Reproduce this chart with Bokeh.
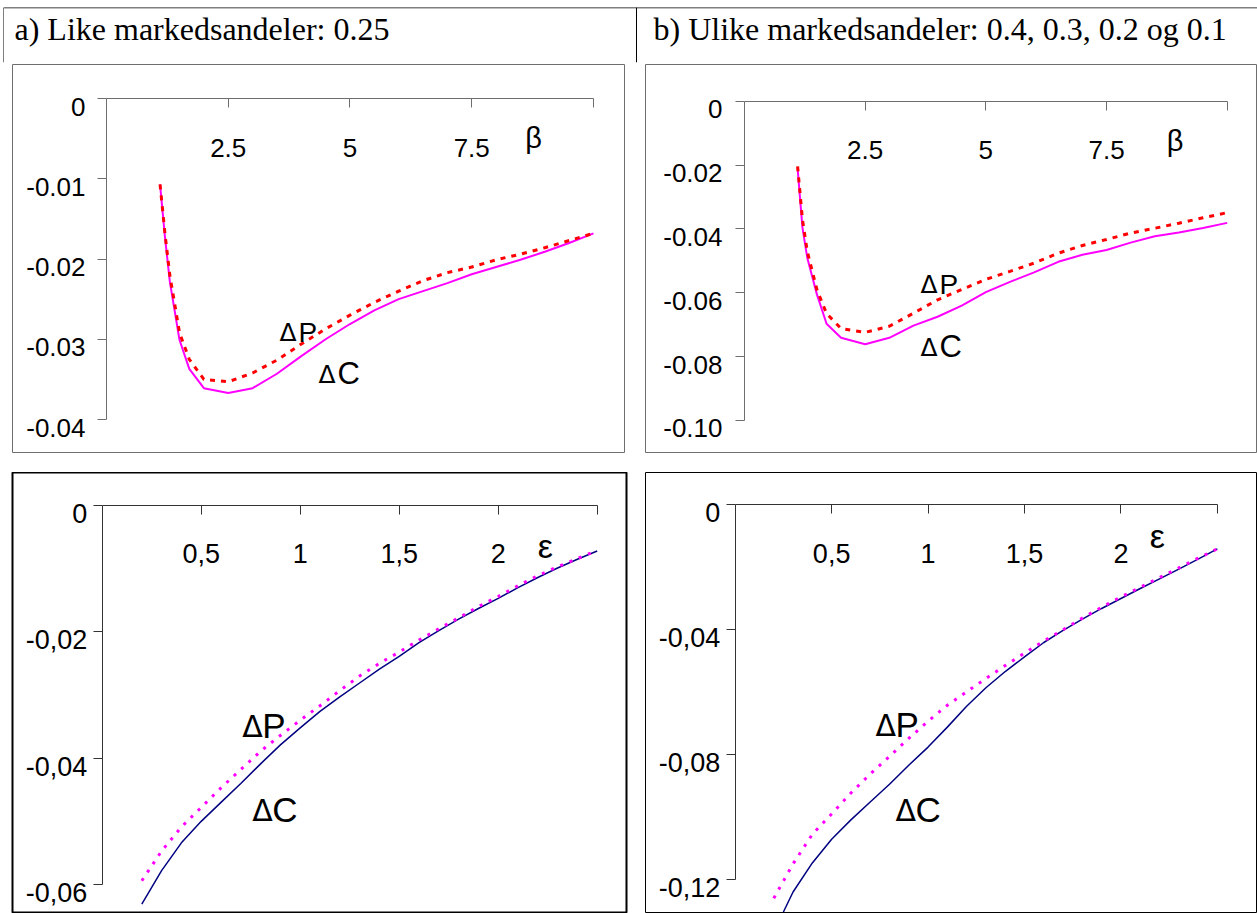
from bokeh.plotting import figure
from bokeh.models import Range1d, LinearAxis, FixedTicker, Label, Span
from bokeh.layouts import column, row
from bokeh.embed import file_html
from bokeh.resources import INLINE

# ---------------- data ----------------
titles = ["a) Like markedsandeler: 0.25",
          "b) Ulike markedsandeler: 0.4, 0.3, 0.2 og 0.1"]

beta = [1.1, 1.2, 1.3, 1.5, 1.7, 2.0, 2.5, 3.0, 3.5, 4.0, 4.5, 5.0,
        5.5, 6.0, 6.5, 7.0, 7.5, 8.0, 8.5, 9.0, 9.5, 10.0]
a_dC = [-0.0107, -0.0172, -0.0228, -0.0301, -0.0337, -0.0361, -0.0367, -0.0361,
        -0.0343, -0.0321, -0.0300, -0.0281, -0.0264, -0.0250, -0.0240, -0.0230,
        -0.0219, -0.0210, -0.0201, -0.0191, -0.0180, -0.0168]
a_dP = [-0.0107, -0.0168, -0.0220, -0.0292, -0.0325, -0.0350, -0.0353, -0.0342,
        -0.0326, -0.0306, -0.0287, -0.0270, -0.0254, -0.0240, -0.0227, -0.0217,
        -0.0210, -0.0201, -0.0194, -0.0186, -0.0177, -0.0168]
b_dC = [-0.0210, -0.0395, -0.0490, -0.0605, -0.0697, -0.0741, -0.0761, -0.0741,
        -0.0703, -0.0675, -0.0640, -0.0598, -0.0566, -0.0536, -0.0503, -0.0481,
        -0.0466, -0.0443, -0.0423, -0.0411, -0.0397, -0.0381]
b_dP = [-0.0204, -0.0370, -0.0470, -0.0590, -0.0665, -0.0712, -0.0724, -0.0705,
        -0.0664, -0.0622, -0.0590, -0.0558, -0.0533, -0.0507, -0.0476, -0.0452,
        -0.0433, -0.0413, -0.0398, -0.0382, -0.0365, -0.0349]

eps = [0.2, 0.3, 0.4, 0.5, 0.6, 0.7, 0.8, 0.9, 1.0, 1.1, 1.2, 1.3,
       1.4, 1.5, 1.6, 1.7, 1.8, 1.9, 2.0, 2.1, 2.2, 2.3, 2.4, 2.5]
c_dC = [-0.0631, -0.0578, -0.0534, -0.0500, -0.0470, -0.0440, -0.0409, -0.0379,
        -0.0352, -0.0326, -0.0303, -0.0281, -0.0259, -0.0239, -0.0217, -0.0198,
        -0.0180, -0.0163, -0.0147, -0.0130, -0.0114, -0.0099, -0.0085, -0.0072]
c_dP = [-0.0594, -0.0547, -0.0509, -0.0478, -0.0447, -0.0418, -0.0389, -0.0364,
        -0.0340, -0.0317, -0.0293, -0.0270, -0.0250, -0.0232, -0.0213, -0.0195,
        -0.0178, -0.0160, -0.0144, -0.0127, -0.0111, -0.0097, -0.0084, -0.0071]
eps_d = [0.25, 0.3, 0.4, 0.5, 0.6, 0.7, 0.8, 0.9, 1.0, 1.1, 1.2, 1.3,
         1.4, 1.5, 1.6, 1.7, 1.8, 1.9, 2.0, 2.1, 2.2, 2.3, 2.4, 2.5]
d_dC = [-0.1304, -0.1240, -0.1147, -0.1071, -0.1009, -0.0952, -0.0895, -0.0834,
        -0.0776, -0.0712, -0.0645, -0.0586, -0.0534, -0.0487, -0.0441, -0.0402,
        -0.0366, -0.0332, -0.0300, -0.0268, -0.0237, -0.0206, -0.0174, -0.0141]
d_dP = [-0.1260, -0.1150, -0.1055, -0.0990, -0.0923, -0.0862, -0.0806, -0.0748,
        -0.0693, -0.0642, -0.0599, -0.0556, -0.0515, -0.0475, -0.0436, -0.0400,
        -0.0363, -0.0328, -0.0295, -0.0264, -0.0233, -0.0202, -0.0171, -0.0141]

beta_ticks = [2.5, 5.0, 7.5, 10.0]
beta_tick_labels = ["2.5", "5", "7.5", ""]
eps_ticks = [0.5, 1.0, 1.5, 2.0, 2.5]
eps_tick_labels = ["0,5", "1", "1,5", "2", ""]
a_yticks = [0.0, -0.01, -0.02, -0.03, -0.04]
a_ylabels = ["0", "-0.01", "-0.02", "-0.03", "-0.04"]
b_yticks = [0.0, -0.02, -0.04, -0.06, -0.08, -0.10]
b_ylabels = ["0", "-0.02", "-0.04", "-0.06", "-0.08", "-0.10"]
c_yticks = [0.0, -0.02, -0.04, -0.06]
c_ylabels = ["0", "-0,02", "-0,04", "-0,06"]
d_yticks = [0.0, -0.04, -0.08, -0.12]
d_ylabels = ["0", "-0,04", "-0,08", "-0,12"]

SANS = "Liberation Sans"
SERIF = "Liberation Serif"
DELTA_FONT = "DejaVu Sans"


def panel(width, height, borders, xr, yr, xmax, xt, xl, yt, yl, box_color, box_w,
          axis_color, fs, x_standoff, y_standoff):
    ml, mr, mt, mb = borders
    p = figure(width=width, height=height, x_range=Range1d(*xr), y_range=Range1d(*yr),
               x_axis_location=None, y_axis_location=None, toolbar_location=None,
               output_backend="svg", min_border_left=ml, min_border_right=mr,
               min_border_top=mt, min_border_bottom=mb)
    p.grid.visible = False
    p.outline_line_color = box_color
    p.outline_line_width = box_w
    p.background_fill_color = "white"
    p.border_fill_color = "white"

    xax = LinearAxis(fixed_location=0, ticker=FixedTicker(ticks=xt),
                     major_label_overrides=dict(zip(xt, xl)), bounds=(0, xmax))
    xax.axis_line_color = axis_color
    xax.major_tick_line_color = axis_color
    xax.major_tick_in = 0
    xax.major_tick_out = 9
    xax.minor_tick_line_color = None
    xax.major_label_standoff = x_standoff
    xax.major_label_text_font = SANS
    xax.major_label_text_font_size = fs
    xax.major_label_text_color = "black"
    p.add_layout(xax, "below")

    yax = LinearAxis(fixed_location=0, ticker=FixedTicker(ticks=yt),
                     major_label_overrides={t: "" for t in yt},
                     bounds=(max(yr[0], min(yt)), 0))
    yax.axis_line_color = axis_color
    yax.major_tick_line_color = axis_color
    yax.major_tick_in = 0
    yax.major_tick_out = 9
    yax.minor_tick_line_color = None
    p.add_layout(yax, "left")

    # tick labels sit a few pixels below their ticks in the original
    frame_h = height - mt - mb
    shift = 8 * (yr[1] - yr[0]) / frame_h
    lt = [t - shift for t in yt]
    ylab = LinearAxis(fixed_location=0, ticker=FixedTicker(ticks=lt),
                      major_label_overrides=dict(zip(lt, yl)), bounds=(yr[0], yr[1]))
    ylab.axis_line_color = None
    ylab.major_tick_line_color = None
    ylab.major_tick_in = 0
    ylab.major_tick_out = 9
    ylab.minor_tick_line_color = None
    ylab.major_label_standoff = y_standoff
    ylab.major_label_text_font = SANS
    ylab.major_label_text_font_size = fs
    ylab.major_label_text_color = "black"
    p.add_layout(ylab, "left")
    return p


def text_label(p, x, y, s, font, size, x_offset=0, extra_up=0):
    p.add_layout(Label(x=x, y=y, x_offset=x_offset,
                       y_offset=round(0.22 * size) + extra_up,
                       text=s, text_font=font, text_font_size=f"{size}px",
                       text_baseline="alphabetic", text_color="black"))


def delta_label(p, x, y, letter, dsize, lsize, gap):
    text_label(p, x, y, "Δ", DELTA_FONT, dsize)
    text_label(p, x, y, letter, SANS, lsize, x_offset=gap)


TOP_AX = "#6e6e6e"
BOT_AX = "#333333"

# ---------- header ----------
h = figure(width=1257, height=64, x_range=Range1d(0, 1254), y_range=Range1d(55, 0),
           x_axis_location=None, y_axis_location=None, toolbar_location=None,
           output_backend="svg", min_border_left=3, min_border_right=0,
           min_border_top=7, min_border_bottom=2)
h.grid.visible = False
h.outline_line_color = None
h.add_layout(Span(location=0, dimension="height", line_color="black", line_width=1))
h.add_layout(Span(location=633, dimension="height", line_color="black", line_width=1))
h.add_layout(Span(location=0, dimension="width", line_color="black", line_width=1.5))
text_label(h, 11, 28, titles[0], SERIF, 32)
text_label(h, 650, 28, titles[1], SERIF, 32)

# ---------- top-left ----------
pa = panel(636, 408, (12, 12, 0, 20), (-1.930, 10.637), (-0.044112, 0.004237), 10,
           beta_ticks, beta_tick_labels, a_yticks, a_ylabels, TOP_AX, 1, TOP_AX,
           "26px", 31, 12)
pa.line(beta, a_dC, line_color="#FF00FF", line_width=2)
pa.line(beta, a_dP, line_color="#FF0000", line_width=3, line_dash="5 6")
delta_label(pa, 3.552, -0.02987, "P", 25, 28, 19)
delta_label(pa, 4.353, -0.03514, "C", 25, 31, 19)
text_label(pa, 8.6, -0.00573, "β", SANS, 29)

# ---------- top-right ----------
pb = panel(621, 408, (9, 1, 0, 20), (-2.051, 10.607), (-0.110022, 0.011494), 10,
           beta_ticks, beta_tick_labels, b_yticks, b_ylabels, TOP_AX, 1, TOP_AX,
           "26px", 31, 13)
pb.line(beta, b_dC, line_color="#FF00FF", line_width=2)
pb.line(beta, b_dP, line_color="#FF0000", line_width=3, line_dash="5 6")
delta_label(pb, 3.646, -0.05929, "P", 25, 28, 19)
delta_label(pb, 3.646, -0.07911, "C", 25, 31, 19)
text_label(pb, 8.75, -0.01419, "β", SANS, 29)

# ---------- bottom-left ----------
pc = panel(636, 441, (12, 10, 0, 1), (-0.453, 2.648), (-0.06443, 0.005224), 2.5,
           eps_ticks, eps_tick_labels, c_yticks, c_ylabels, "black", 2, BOT_AX,
           "27px", 30, 6)
pc.line(eps, c_dC, line_color="#000080", line_width=1.5)
pc.line(eps, c_dP, line_color="#FF00FF", line_width=3, line_dash="3 7")
delta_label(pc, 0.707, -0.03614, "P", 30, 35, 20)
delta_label(pc, 0.758, -0.04939, "C", 30, 35, 20)
text_label(pc, 2.20, -0.00823, "ε", SANS, 34, extra_up=4)

# ---------- bottom-right ----------
pd_ = panel(621, 441, (9, 0, 0, 1), (-0.465, 2.708), (-0.13057, 0.010344), 2.5,
            eps_ticks, eps_tick_labels, d_yticks, d_ylabels, "black", 1, BOT_AX,
            "27px", 30, 6)
pd_.line(eps_d, d_dC, line_color="#000080", line_width=1.5)
pd_.line(eps, d_dP, line_color="#FF00FF", line_width=3, line_dash="3 7")
delta_label(pd_, 0.727, -0.07283, "P", 30, 35, 20)
delta_label(pd_, 0.831, -0.10005, "C", 30, 35, 20)
text_label(pd_, 2.15, -0.01367, "ε", SANS, 34, extra_up=4)

layout = column(h, row(pa, pb), row(pc, pd_))
open("out.html", "w").write(file_html(layout, INLINE))
